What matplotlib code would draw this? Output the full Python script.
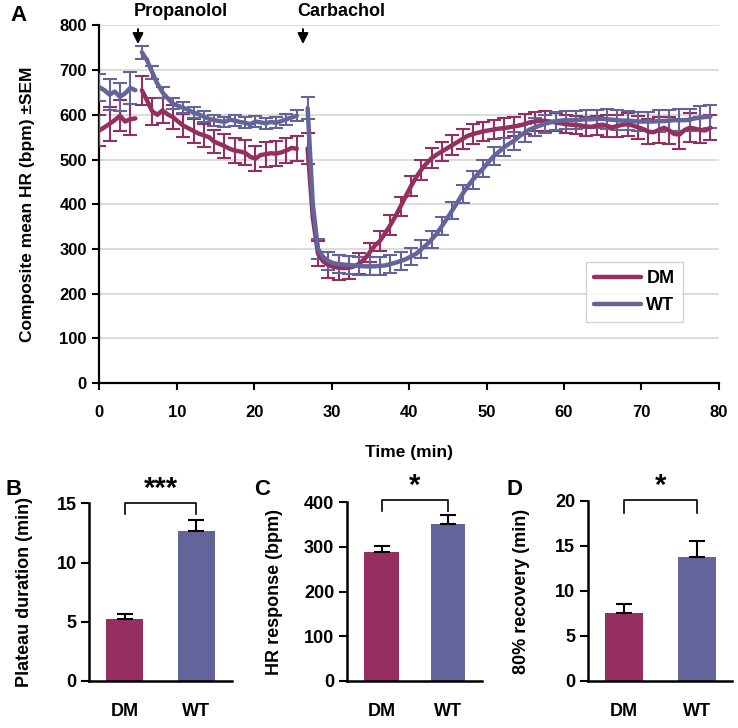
import numpy as np
import matplotlib.pyplot as plt

plt.rcParams['font.family'] = ['Liberation Sans', 'DejaVu Sans']
plt.rcParams['font.weight'] = 'bold'
plt.rcParams['axes.labelweight'] = 'bold'

DM_COLOR = "#952f60"
WT_COLOR = "#63649a"

# ---------------- panel A data (HR in bpm, SEM at every other sample)
t_base = np.arange(0, 5, 2 / 3)
t_prop = 5.5 + np.arange(31) * 2 / 3
t_carb = 26.9 + np.arange(79) * 2 / 3

dm_base = [565, 572, 580, 588, 598, 585, 590, 592]
wt_base = [662, 655, 645, 652, 640, 648, 660, 655]
dm_base_sem = [35, 38, 35, 35]
wt_base_sem = [30, 35, 32, 35]

dm_prop = [655, 632, 608, 600, 610, 601, 595, 585, 576, 570,
           564, 558, 554, 550, 540, 535, 530, 524, 520, 518,
           515, 506, 502, 510, 512, 514, 513, 516, 520, 526, 524]
wt_prop = [740, 722, 695, 670, 650, 637, 625, 620, 616, 611,
           605, 601, 596, 591, 588, 586, 584, 589, 587, 584,
           582, 579, 585, 583, 581, 584, 582, 586, 590, 594, 598]
dm_prop_sem = [32, 30, 28, 27, 26, 26, 25, 25, 26, 27, 28, 28, 28, 28, 28, 28]
wt_prop_sem = [15, 14, 13, 13, 12, 12, 12, 12, 12, 12, 12, 12, 12, 12, 12, 12]

dm_carb = [525, 370, 290, 272, 264, 260, 258, 257, 258, 261,
           267, 277, 292, 307, 318, 335, 353, 373, 395, 418,
           440, 460, 477, 491, 503, 511, 518, 525, 532, 539,
           546, 553, 557, 560, 563, 565, 567, 569, 570, 572,
           574, 576, 579, 583, 585, 587, 586, 585, 583, 581,
           579, 578, 577, 576, 574, 573, 576, 578, 575, 572,
           575, 578, 579, 576, 572, 568, 562, 561, 566, 571,
           565, 557, 556, 566, 571, 569, 566, 565, 571]
wt_carb = [615, 400, 300, 282, 273, 268, 266, 265, 264, 263,
           262, 261, 261, 261, 262, 263, 266, 269, 273, 277,
           283, 289, 299, 309, 321, 334, 351, 368, 386, 404,
           423, 440, 455, 468, 480, 494, 507, 517, 527, 535,
           542, 552, 560, 567, 572, 576, 580, 583, 586, 587,
           588, 588, 588, 589, 590, 590, 591, 591, 590, 589,
           588, 587, 587, 586, 585, 585, 585, 585, 586, 586,
           587, 588, 588, 588, 589, 592, 594, 595, 596]
dm_carb_sem = [35, 28, 28, 28, 26, 24, 22, 22, 22, 22,
               22, 22, 22, 22, 22, 22, 22, 22, 22, 22,
               22, 22, 22, 22, 20, 20, 20, 22, 22, 24,
               24, 26, 26, 28, 28, 30, 32, 32, 30, 28]
wt_carb_sem = [25, 22, 20, 20, 20, 20, 20, 20, 20, 20,
               20, 20, 20, 20, 20, 20, 20, 20, 20, 20,
               20, 20, 20, 20, 20, 20, 20, 20, 20, 22,
               22, 22, 22, 22, 24, 24, 25, 25, 26, 26]

# ---------------- panels B-D data
groups = ["DM", "WT"]
plateau = [5.23, 12.63]
plateau_sem = [0.45, 0.98]
hr_response = [288, 351]
hr_response_sem = [15, 20]
recovery = [7.52, 13.74]
recovery_sem = [1.0, 1.85]

fig = plt.figure(figsize=(7.38, 7.28), dpi=100)

# ---------------- panel A
ax = fig.add_axes([0.1345, 0.4739, 0.8397, 0.4912])

series = {
    "DM": (DM_COLOR, [(t_base, dm_base, dm_base_sem),
                      (t_prop, dm_prop, dm_prop_sem),
                      (t_carb, dm_carb, dm_carb_sem)]),
    "WT": (WT_COLOR, [(t_base, wt_base, wt_base_sem),
                      (t_prop, wt_prop, wt_prop_sem),
                      (t_carb, wt_carb, wt_carb_sem)]),
}
handles = []
for name, (col, segs) in series.items():
    for t, y, sem in segs:
        t = np.asarray(t)
        y = np.asarray(y)
        ax.errorbar(t[::2], y[::2], yerr=sem, fmt="none", ecolor=col,
                    elinewidth=1.5, capsize=5, capthick=1.5, zorder=3)
        line, = ax.plot(t, y, color=col, lw=3.2, zorder=4,
                        solid_joinstyle="round", solid_capstyle="round")
    line.set_label(name)
    handles.append(line)

ax.set_xlim(0, 80)
ax.set_ylim(0, 800)
ax.set_xticks(range(0, 81, 10))
ax.set_yticks(range(0, 801, 100))
ax.grid(axis="y", color="#d9d9d9", lw=1.3)
ax.set_axisbelow(True)
for s in ["top", "right"]:
    ax.spines[s].set_visible(False)
for s in ["left", "bottom"]:
    ax.spines[s].set_linewidth(1.6)
ax.tick_params(axis="y", length=5, width=1.5, pad=4, labelsize=12)
ax.tick_params(axis="x", length=5, width=1.5, pad=11, labelsize=12)
ax.set_xlabel("Time (min)", fontsize=12.5)
ax.xaxis.set_label_coords(0.5, -0.173)
ax.set_ylabel("Composite mean HR (bpm) \u00b1SEM", fontsize=12.5)
ax.yaxis.set_label_coords(-0.104, 0.5)

leg = ax.legend(handles=handles, loc="upper right", bbox_to_anchor=(0.9415, 0.339),
                borderaxespad=0, fontsize=13, frameon=True, fancybox=False,
                handlelength=2.6, borderpad=0.45, labelspacing=0.55,
                handletextpad=0.3)
leg.get_frame().set_edgecolor("#c8c8c8")
leg.get_frame().set_linewidth(1.0)

for x_arrow, x_text, label in [(5.0, 4.4, "Propanolol"), (26.3, 25.5, "Carbachol")]:
    ax.annotate("", xy=(x_arrow, 752), xytext=(x_arrow, 798),
                arrowprops=dict(arrowstyle="-|>", color="black", lw=1.4,
                                mutation_scale=16),
                annotation_clip=False)
    ax.text(x_text, 831, label, fontsize=13, fontweight="bold",
            ha="left", va="center", clip_on=False)

fig.text(0.0244, 0.979, "A", fontsize=16, fontweight="bold", ha="center", va="center")

# ---------------- panels B-D
panels = [
    ("B", [0.1210, 0.0646, 0.1934, 0.2441], (-0.494, 1.499), plateau, plateau_sem,
     [0, 5, 10, 15], "Plateau duration (min)", -0.395, (15.0, 14.1), "***", 0.019),
    ("C", [0.4698, 0.0646, 0.1837, 0.2455], (-0.526, 1.513), hr_response, hr_response_sem,
     [0, 100, 200, 300, 400], "HR response (bpm)", -0.470, (405, 381), "*", 0.355),
    ("D", [0.7963, 0.0646, 0.1959, 0.2473], (-0.49, 1.48), recovery, recovery_sem,
     [0, 5, 10, 15, 20], "80% recovery (min)", -0.399, (20.1, 18.7), "*", 0.697),
]

for letter, rect, xlim, vals, sems, yticks, ylabel, lab_x, (br_top, br_leg), stars, let_x in panels:
    bx = fig.add_axes(rect)
    x = np.arange(len(groups))
    bx.bar(x, vals, width=0.52, color=[DM_COLOR, WT_COLOR], zorder=2)
    bx.errorbar(x, vals, yerr=[[0, 0], sems], fmt="none", ecolor="black",
                elinewidth=1.5, capsize=6, capthick=1.5, zorder=3)
    bx.set_xlim(*xlim)
    bx.set_ylim(yticks[0], yticks[-1])
    bx.set_yticks(yticks)
    bx.set_xticks(x)
    bx.set_xticklabels(groups)
    for s in ["top", "right"]:
        bx.spines[s].set_visible(False)
    for s in ["left", "bottom"]:
        bx.spines[s].set_linewidth(1.8)
    bx.tick_params(axis="y", length=6, width=1.5, pad=3, labelsize=13)
    bx.tick_params(axis="x", length=0, pad=16, labelsize=13)
    bx.set_ylabel(ylabel, fontsize=13)
    bx.yaxis.set_label_coords(lab_x, 0.5)

    bx.plot([0, 0, 1, 1], [br_leg, br_top, br_top, br_leg], color="black",
            lw=1.2, clip_on=False)
    bx.text(0.5, br_top, stars, fontsize=21, fontweight="bold",
            ha="center", va="bottom", clip_on=False)

    fig.text(let_x, 0.327, letter, fontsize=16, fontweight="bold",
             ha="center", va="center")

fig.savefig("out.png", dpi=100)
